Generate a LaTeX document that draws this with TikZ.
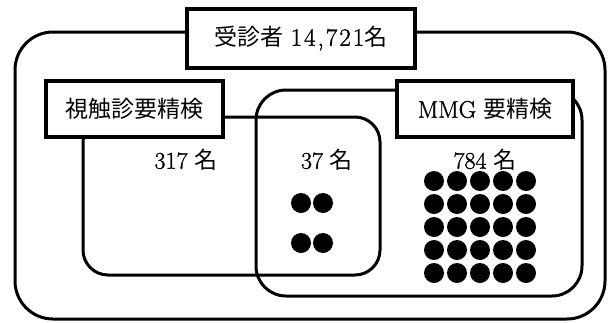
\documentclass[tikz,border=0pt]{standalone}
\usepackage{fontspec}
\newfontfamily\cjk{Noto Sans CJK JP}
\newfontfamily\numf[FakeBold=1.2]{Latin Modern Roman}
\newfontfamily\numwide[FakeBold=1.2,LetterSpace=8]{Latin Modern Roman}
\begin{document}
\begin{tikzpicture}[x=1pt,y=-1pt,
  setbox/.style={draw=black,line width=3pt,inner sep=0pt},
  labelbox/.style={draw=black,fill=white,line width=3.2pt,inner sep=0pt,font=\fontsize{23}{27}\selectfont},
  count/.style={inner sep=0pt,font=\fontsize{23}{27}\selectfont},
  dot/.style={circle,fill=black,inner sep=0pt,minimum size=20pt}]
\useasboundingbox (0,0) rectangle (614,322);
\node[setbox,rounded corners=38pt,minimum width=590pt,minimum height=287pt] (outer) at (310,175.5) {};
\node[setbox,rounded corners=25pt,minimum width=297pt,minimum height=158pt] (leftset) at (231.5,196) {};
\node[setbox,rounded corners=30pt,minimum width=326pt,minimum height=206pt] (rightset) at (419,193) {};
\node[labelbox,minimum width=228pt,minimum height=59pt] (title) at (301,38.5) {{\cjk 受診者} {\numwide\fontsize{25}{27}\selectfont 14,721}{\cjk 名}};
\node[labelbox,minimum width=177pt,minimum height=56pt] (lbox) at (134.5,109) {\cjk 視触診要精検};
\node[labelbox,minimum width=176pt,minimum height=56pt] (rbox) at (485,109) {{\numf\fontsize{24}{27}\selectfont MMG} {\cjk 要精検}};
\node[count] (n317) at (186,160) {{\numf\fontsize{24}{27}\selectfont 317} {\cjk 名}};
\node[count] (n37) at (327,160) {{\numf\fontsize{24}{27}\selectfont 37} {\cjk 名}};
\node[count] (n784) at (485,160) {{\numf\fontsize{24}{27}\selectfont 784} {\cjk 名}};
\foreach \i/\x in {1/301,2/323}
  \foreach \j/\y in {1/203,2/243}
    \node[dot] (b\i\j) at (\x,\y) {};
\foreach \i/\x in {1/434,2/457,3/480,4/503,5/526}
  \foreach \j/\y in {1/181,2/204,3/227,4/250,5/273}
    \node[dot] (c\i\j) at (\x,\y) {};
\end{tikzpicture}
\end{document}
